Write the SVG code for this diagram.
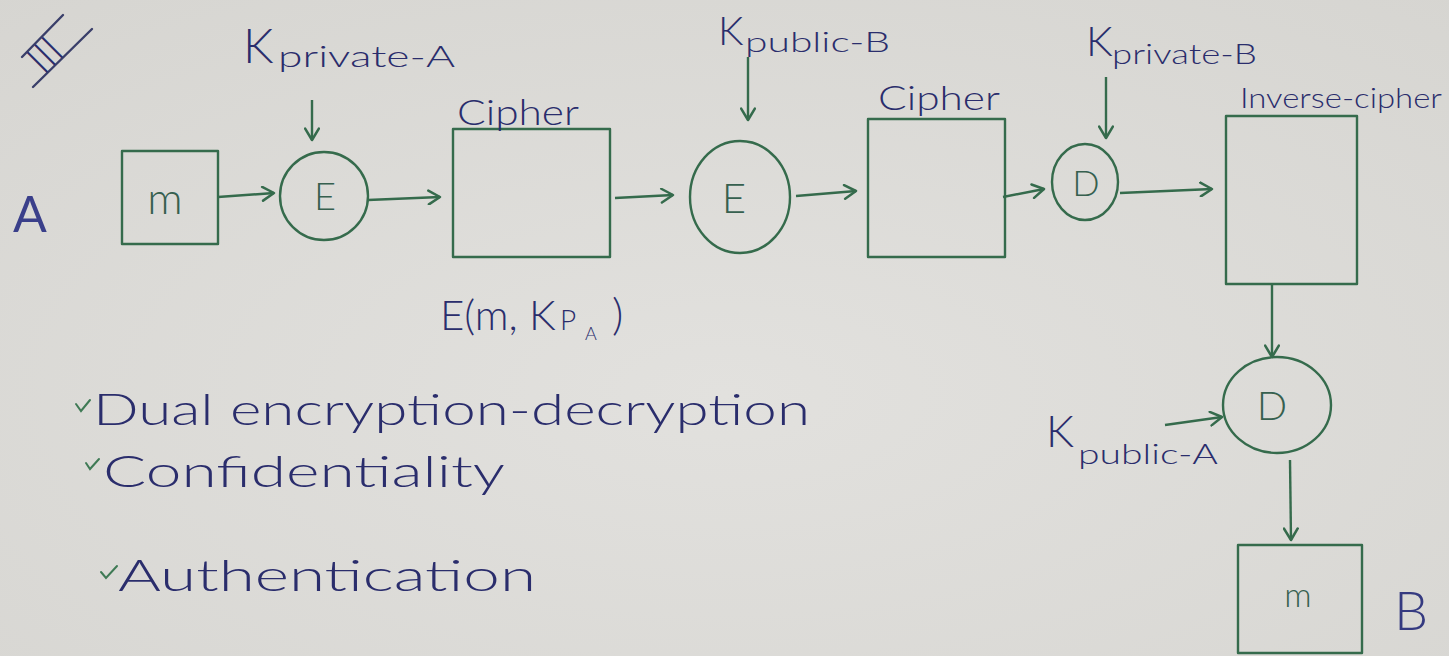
<svg xmlns="http://www.w3.org/2000/svg" width="1449" height="656" viewBox="0 0 1449 656">
<defs>
<marker id="ah" viewBox="0 0 14 14" markerWidth="16" markerHeight="16" refX="12" refY="7" orient="auto" markerUnits="userSpaceOnUse">
<path d="M2,1 L12,7 L2,13" fill="none" stroke="#356b4c" stroke-width="2.2" stroke-linecap="round" stroke-linejoin="round"/>
</marker>
<radialGradient id="bg" cx="0.5" cy="0.6" r="0.8">
<stop offset="0" stop-color="#e2e1de"/>
<stop offset="1" stop-color="#d6d5d1"/>
</radialGradient>
<style>
.g{fill:none;stroke:#356b4c;stroke-width:2.4;stroke-linecap:round;stroke-linejoin:round}
.c{fill:none;stroke:#356b4c;stroke-width:2.4;marker-end:url(#ah)}
.t{font-family:Lato,"Liberation Sans",Arial,sans-serif;font-weight:300;fill:#2a2d6c}
.tg{font-family:Lato,"Liberation Sans",Arial,sans-serif;font-weight:300;fill:#36604f}
.chk{fill:none;stroke:#3f7a55;stroke-width:2;stroke-linecap:round}
</style>
</defs>
<rect width="1449" height="656" fill="url(#bg)"/>

<g id="roman-III">
<line class="g" x1="22" y1="57" x2="63" y2="15" style="stroke:#3a3f6a"/>
<line class="g" x1="33" y1="87" x2="92" y2="29" style="stroke:#3a3f6a"/>
<text class="t" x="45" y="69" font-size="40" text-anchor="middle" transform="rotate(-45 45 55)">III</text>
</g>

<g id="label-A"><text class="t" x="30" y="232" font-size="50" text-anchor="middle" style="fill:#3a3f8a;font-weight:400">A</text></g>

<g id="node-m-A">
<rect class="g" x="122" y="151" width="96" height="93"/>
<text class="tg" x="165" y="214" font-size="44" text-anchor="middle">m</text>
</g>

<g id="node-E1">
<ellipse class="g" cx="324" cy="196" rx="44" ry="44"/>
<text class="tg" x="325" y="210" font-size="38" text-anchor="middle">E</text>
</g>

<g id="label-Kprivate-A">
<text class="t" x="243" y="63" font-size="48">K</text>
<text class="t" x="278" y="67" font-size="30" textLength="177" lengthAdjust="spacingAndGlyphs">private-A</text>
</g>

<g id="node-cipher1">
<rect class="g" x="453" y="129" width="157" height="128"/>
<text class="t" x="457" y="125" font-size="36" textLength="122" lengthAdjust="spacingAndGlyphs">Cipher</text>
</g>

<g id="label-EmKPA">
<text class="t" x="440" y="330" font-size="42">E(m, K</text>
<text class="t" x="560" y="330" font-size="28">P</text>
<text class="t" x="585" y="340" font-size="18">A</text>
<text class="t" x="612" y="330" font-size="44">)</text>
</g>

<g id="node-E2">
<ellipse class="g" cx="740" cy="197" rx="50" ry="56"/>
<text class="tg" x="734" y="213" font-size="42" text-anchor="middle">E</text>
</g>

<g id="label-Kpublic-B">
<text class="t" x="718" y="45" font-size="40">K</text>
<text class="t" x="745" y="52" font-size="28" textLength="145" lengthAdjust="spacingAndGlyphs">public-B</text>
</g>

<g id="node-cipher2">
<rect class="g" x="868" y="119" width="137" height="138"/>
<text class="t" x="878" y="110" font-size="34" textLength="122" lengthAdjust="spacingAndGlyphs">Cipher</text>
</g>

<g id="node-D1">
<ellipse class="g" cx="1085" cy="182" rx="33" ry="38"/>
<text class="tg" x="1086" y="196" font-size="36" text-anchor="middle">D</text>
</g>

<g id="label-Kprivate-B">
<text class="t" x="1086" y="56" font-size="42">K</text>
<text class="t" x="1112" y="64" font-size="28" textLength="145" lengthAdjust="spacingAndGlyphs">private-B</text>
</g>

<g id="node-inverse-cipher">
<rect class="g" x="1226" y="116" width="131" height="168"/>
<text class="t" x="1240" y="108" font-size="27" textLength="202" lengthAdjust="spacingAndGlyphs">Inverse-cipher</text>
</g>

<g id="node-D2">
<ellipse class="g" cx="1277" cy="405" rx="54" ry="48"/>
<text class="tg" x="1272" y="420" font-size="40" text-anchor="middle">D</text>
</g>

<g id="label-Kpublic-A">
<text class="t" x="1046" y="447" font-size="44">K</text>
<text class="t" x="1078" y="464" font-size="28" textLength="140" lengthAdjust="spacingAndGlyphs">public-A</text>
</g>

<g id="node-m-B">
<rect class="g" x="1238" y="545" width="124" height="108"/>
<text class="tg" x="1298" y="607" font-size="34" text-anchor="middle">m</text>
</g>

<g id="label-B"><text class="t" x="1411" y="630" font-size="54" text-anchor="middle" style="fill:#353a80">B</text></g>

<g id="connectors">
<line class="c" x1="218" y1="197" x2="274" y2="193"/>
<line class="c" x1="312" y1="100" x2="312" y2="140"/>
<line class="c" x1="368" y1="200" x2="440" y2="197"/>
<line class="c" x1="615" y1="198" x2="673" y2="195"/>
<line class="c" x1="748" y1="57" x2="748" y2="120"/>
<line class="c" x1="796" y1="196" x2="856" y2="191"/>
<line class="c" x1="1003" y1="197" x2="1044" y2="189"/>
<line class="c" x1="1106" y1="77" x2="1106" y2="138"/>
<line class="c" x1="1120" y1="193" x2="1212" y2="189"/>
<line class="c" x1="1272" y1="284" x2="1272" y2="357"/>
<line class="c" x1="1165" y1="425" x2="1222" y2="417"/>
<line class="c" x1="1290" y1="460" x2="1291" y2="540"/>
</g>

<g id="notes">
<polyline class="chk" points="76,404 81,411 90,400"/>
<text class="t" x="93" y="425" font-size="44" textLength="717" lengthAdjust="spacingAndGlyphs">Dual encryption-decryption</text>
<polyline class="chk" points="86,463 90,469 99,459"/>
<text class="t" x="103" y="487" font-size="44" textLength="402" lengthAdjust="spacingAndGlyphs">Confidentiality</text>
<polyline class="chk" points="101,572 106,578 117,566"/>
<text class="t" x="118" y="591" font-size="44" textLength="418" lengthAdjust="spacingAndGlyphs">Authentication</text>
</g>
</svg>
